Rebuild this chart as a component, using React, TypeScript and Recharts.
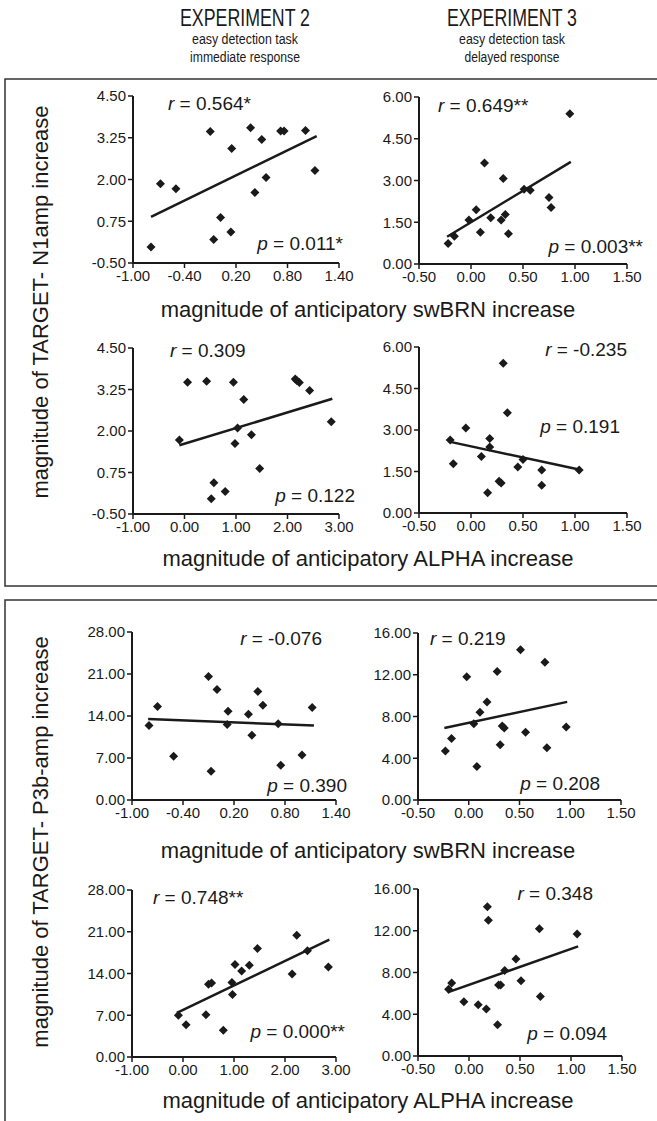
import React from 'react';
import { ScatterChart, Scatter, XAxis, YAxis, ReferenceLine } from 'recharts';

// tick sets
const swbrnExp2Ticks = [-1.0, -0.4, 0.2, 0.8, 1.4];
const alphaExp2Ticks = [-1, 0, 1, 2, 3];
const exp3XTicks = [-0.5, 0, 0.5, 1, 1.5];
const n1Exp2YTicks = [-0.5, 0.75, 2, 3.25, 4.5];
const n1Exp3YTicks = [0, 1.5, 3, 4.5, 6];
const p3bExp2YTicks = [0, 7, 14, 21, 28];
const p3bExp3YTicks = [0, 4, 8, 12, 16];

// N1amp vs swBRN, experiment 2
const n1SwbrnExp2X = [-0.79, -0.68, -0.5, -0.1, -0.06, 0.02, 0.14, 0.15, 0.37, 0.42, 0.5, 0.55, 0.72, 0.76, 1.01, 1.12];
const n1SwbrnExp2Y = [-0.02, 1.87, 1.72, 3.44, 0.2, 0.86, 0.43, 2.93, 3.55, 1.61, 3.2, 2.06, 3.45, 3.45, 3.47, 2.27];
const n1SwbrnExp2FitX = [-0.79, 1.14];
const n1SwbrnExp2FitY = [0.88, 3.3];

// N1amp vs swBRN, experiment 3
const n1SwbrnExp3X = [-0.22, -0.16, -0.02, 0.05, 0.09, 0.13, 0.19, 0.29, 0.31, 0.33, 0.36, 0.51, 0.57, 0.75, 0.77, 0.95];
const n1SwbrnExp3Y = [0.74, 1.0, 1.58, 1.95, 1.14, 3.63, 1.66, 1.58, 3.07, 1.78, 1.09, 2.69, 2.65, 2.39, 2.03, 5.4];
const n1SwbrnExp3FitX = [-0.23, 0.96];
const n1SwbrnExp3FitY = [0.98, 3.67];

// N1amp vs ALPHA, experiment 2
const n1AlphaExp2X = [-0.1, 0.06, 0.43, 0.52, 0.57, 0.79, 0.95, 0.98, 1.03, 1.15, 1.3, 1.46, 2.15, 2.18, 2.23, 2.43, 2.85];
const n1AlphaExp2Y = [1.73, 3.47, 3.5, -0.04, 0.44, 0.18, 3.47, 1.62, 2.09, 2.95, 1.89, 0.87, 3.57, 3.52, 3.46, 3.22, 2.28];
const n1AlphaExp2FitX = [-0.1, 2.87];
const n1AlphaExp2FitY = [1.57, 2.97];

// N1amp vs ALPHA, experiment 3
const n1AlphaExp3X = [-0.2, -0.17, -0.05, 0.1, 0.16, 0.18, 0.18, 0.27, 0.29, 0.31, 0.35, 0.45, 0.5, 0.68, 0.68, 1.04];
const n1AlphaExp3Y = [2.64, 1.78, 3.07, 2.04, 0.73, 2.69, 2.39, 1.15, 1.08, 5.41, 3.62, 1.66, 1.93, 1.55, 1.0, 1.55];
const n1AlphaExp3FitX = [-0.21, 1.05];
const n1AlphaExp3FitY = [2.58, 1.56];

// P3b vs swBRN, experiment 2
const p3bSwbrnExp2X = [-0.8, -0.7, -0.51, -0.1, -0.07, 0.0, 0.12, 0.13, 0.37, 0.41, 0.48, 0.54, 0.72, 0.75, 1.0, 1.12];
const p3bSwbrnExp2Y = [12.4, 15.6, 7.3, 20.6, 4.8, 18.4, 12.6, 14.8, 14.3, 10.8, 18.1, 15.8, 12.7, 5.8, 7.5, 15.4];
const p3bSwbrnExp2FitX = [-0.81, 1.14];
const p3bSwbrnExp2FitY = [13.5, 12.4];

// P3b vs swBRN, experiment 3
const p3bSwbrnExp3X = [-0.23, -0.17, -0.02, 0.05, 0.08, 0.11, 0.18, 0.28, 0.31, 0.33, 0.35, 0.51, 0.56, 0.75, 0.77, 0.96];
const p3bSwbrnExp3Y = [4.7, 5.9, 11.8, 7.3, 3.2, 8.4, 9.4, 12.3, 5.3, 7.1, 6.9, 14.4, 6.5, 13.2, 5.0, 7.0];
const p3bSwbrnExp3FitX = [-0.24, 0.97];
const p3bSwbrnExp3FitY = [6.9, 9.4];

// P3b vs ALPHA, experiment 2
const p3bAlphaExp2X = [-0.09, 0.06, 0.45, 0.5, 0.56, 0.79, 0.96, 0.97, 1.02, 1.15, 1.3, 1.46, 2.14, 2.23, 2.44, 2.85];
const p3bAlphaExp2Y = [7.0, 5.4, 7.1, 12.2, 12.4, 4.5, 12.5, 10.5, 15.5, 14.4, 15.4, 18.2, 13.9, 20.4, 17.8, 15.1];
const p3bAlphaExp2FitX = [-0.12, 2.87];
const p3bAlphaExp2FitY = [7.4, 19.7];

// P3b vs ALPHA, experiment 3
const p3bAlphaExp3X = [-0.2, -0.17, -0.05, 0.09, 0.17, 0.18, 0.19, 0.28, 0.29, 0.31, 0.35, 0.46, 0.51, 0.69, 0.7, 1.06];
const p3bAlphaExp3Y = [6.4, 7.0, 5.2, 4.9, 4.5, 14.3, 13.0, 3.0, 6.8, 6.8, 8.2, 9.3, 7.2, 12.2, 5.7, 11.7];
const p3bAlphaExp3FitX = [-0.21, 1.07];
const p3bAlphaExp3FitY = [6.1, 10.5];

const INK = '#1a1a1a';
const FONT = '"Liberation Sans", Arial, sans-serif';

const zip = (xs: number[], ys: number[]) => xs.map((x, i) => ({ x, y: ys[i] }));

const Diamond = (props: any) => {
  const { cx, cy } = props;
  const s = 4.5;
  return <polygon points={`${cx},${cy - s} ${cx + s},${cy} ${cx},${cy + s} ${cx - s},${cy}`} fill={INK} />;
};

const YW = 56;
const MT = 10;

const Panel = ({ left, top, w, h, xs, ys, fx, fy, xTicks, yTicks }: any) => {
  const data = zip(xs, ys);
  const tick = { fontSize: 15, fill: INK, fontFamily: FONT };
  return (
    <div style={{ position: 'absolute', left: left - YW, top: top - MT }}>
      <ScatterChart width={w + YW + 18} height={h + MT + 30} margin={{ top: MT, right: 18, bottom: 0, left: 0 }}>
        <XAxis
          type="number" dataKey="x" domain={[xTicks[0], xTicks[xTicks.length - 1]]} ticks={xTicks}
          tickFormatter={(v: number) => v.toFixed(2)} height={30} tick={tick}
          axisLine={{ stroke: INK, strokeWidth: 2 }} tickLine={{ stroke: INK, strokeWidth: 1.5 }} tickSize={5} interval={0}
        />
        <YAxis
          type="number" dataKey="y" domain={[yTicks[0], yTicks[yTicks.length - 1]]} ticks={yTicks}
          tickFormatter={(v: number) => v.toFixed(2)} width={YW} tick={tick}
          axisLine={{ stroke: INK, strokeWidth: 2 }} tickLine={{ stroke: INK, strokeWidth: 1.5 }} tickSize={5} interval={0}
        />
        <ReferenceLine
          segment={[{ x: fx[0], y: fy[0] }, { x: fx[1], y: fy[1] }]}
          stroke={INK} strokeWidth={2.5} ifOverflow="visible"
        />
        <Scatter data={data} shape={Diamond} isAnimationActive={false} />
      </ScatterChart>
    </div>
  );
};

const Stat = ({ x, y, sym, text, anchor }: any) => (
  <text x={x} y={y} textAnchor={anchor} fontSize={19} fill={INK} fontFamily={FONT}>
    <tspan fontStyle="italic">{sym}</tspan>{text}
  </text>
);

const Head = ({ x, y, size, len, children }: any) => (
  <text x={x - len / 2} y={y} fontSize={size} textLength={len} lengthAdjust="spacingAndGlyphs">{children}</text>
);

const L = 133, R = 419, PW = 206, PH = 167;

export default function App() {
  return (
    <div style={{ position: 'absolute', left: 0, top: 0, width: 657, height: 1121, background: '#fff', overflow: 'hidden' }}>
      <Panel left={L} top={96} w={PW} h={PH} xs={n1SwbrnExp2X} ys={n1SwbrnExp2Y} fx={n1SwbrnExp2FitX} fy={n1SwbrnExp2FitY} xTicks={swbrnExp2Ticks} yTicks={n1Exp2YTicks} />
      <Panel left={R} top={97} w={PW + 2} h={PH} xs={n1SwbrnExp3X} ys={n1SwbrnExp3Y} fx={n1SwbrnExp3FitX} fy={n1SwbrnExp3FitY} xTicks={exp3XTicks} yTicks={n1Exp3YTicks} />
      <Panel left={L} top={348} w={PW} h={PH - 1} xs={n1AlphaExp2X} ys={n1AlphaExp2Y} fx={n1AlphaExp2FitX} fy={n1AlphaExp2FitY} xTicks={alphaExp2Ticks} yTicks={n1Exp2YTicks} />
      <Panel left={R} top={347} w={PW + 2} h={PH - 1} xs={n1AlphaExp3X} ys={n1AlphaExp3Y} fx={n1AlphaExp3FitX} fy={n1AlphaExp3FitY} xTicks={exp3XTicks} yTicks={n1Exp3YTicks} />
      <Panel left={L - 1} top={632} w={PW - 2} h={PH + 1} xs={p3bSwbrnExp2X} ys={p3bSwbrnExp2Y} fx={p3bSwbrnExp2FitX} fy={p3bSwbrnExp2FitY} xTicks={swbrnExp2Ticks} yTicks={p3bExp2YTicks} />
      <Panel left={R - 1} top={633} w={PW - 3} h={PH} xs={p3bSwbrnExp3X} ys={p3bSwbrnExp3Y} fx={p3bSwbrnExp3FitX} fy={p3bSwbrnExp3FitY} xTicks={exp3XTicks} yTicks={p3bExp3YTicks} />
      <Panel left={L - 1} top={890} w={PW - 2} h={PH} xs={p3bAlphaExp2X} ys={p3bAlphaExp2Y} fx={p3bAlphaExp2FitX} fy={p3bAlphaExp2FitY} xTicks={alphaExp2Ticks} yTicks={p3bExp2YTicks} />
      <Panel left={R - 1} top={889} w={PW - 2} h={PH} xs={p3bAlphaExp3X} ys={p3bAlphaExp3Y} fx={p3bAlphaExp3FitX} fy={p3bAlphaExp3FitY} xTicks={exp3XTicks} yTicks={p3bExp3YTicks} />

      <svg width={657} height={1121} style={{ position: 'absolute', left: 0, top: 0, pointerEvents: 'none' }}>
        {/* frames */}
        <rect x={5} y={79} width={700} height={507} fill="none" stroke="#333" strokeWidth={1.5} />
        <rect x={5} y={600} width={700} height={600} fill="none" stroke="#333" strokeWidth={1.5} />

        {/* headers */}
        <g fill={INK} fontFamily={FONT}>
          <Head x={245} y={26} size={23} len={130}>EXPERIMENT 2</Head>
          <Head x={245} y={44} size={14} len={106}>easy detection task</Head>
          <Head x={245} y={62} size={14} len={110}>immediate response</Head>
          <Head x={512} y={26} size={23} len={130}>EXPERIMENT 3</Head>
          <Head x={512} y={44} size={14} len={106}>easy detection task</Head>
          <Head x={512} y={62} size={14} len={95}>delayed response</Head>
        </g>

        {/* axis titles */}
        <g fill={INK} fontFamily={FONT} fontSize={22} textAnchor="middle">
          <text x={368} y={317}>magnitude of anticipatory swBRN increase</text>
          <text x={368} y={566}>magnitude of anticipatory ALPHA increase</text>
          <text x={368} y={858}>magnitude of anticipatory swBRN increase</text>
          <text x={368} y={1108}>magnitude of anticipatory ALPHA increase</text>
          <text transform="translate(48,302) rotate(-90)">magnitude of TARGET- N1amp increase</text>
          <text transform="translate(48,842) rotate(-90)">magnitude of TARGET- P3b-amp increase</text>
        </g>

        {/* correlation annotations */}
        <Stat x={168} y={110} sym="r" text=" = 0.564*" anchor="start" />
        <Stat x={343} y={250} sym="p" text=" = 0.011*" anchor="end" />
        <Stat x={438} y={112} sym="r" text=" = 0.649**" anchor="start" />
        <Stat x={643} y={253} sym="p" text=" = 0.003**" anchor="end" />
        <Stat x={170} y={357} sym="r" text=" = 0.309" anchor="start" />
        <Stat x={355} y={502} sym="p" text=" = 0.122" anchor="end" />
        <Stat x={627} y={356} sym="r" text=" = -0.235" anchor="end" />
        <Stat x={620} y={433} sym="p" text=" = 0.191" anchor="end" />
        <Stat x={322} y={645} sym="r" text=" = -0.076" anchor="end" />
        <Stat x={347} y={792} sym="p" text=" = 0.390" anchor="end" />
        <Stat x={430} y={645} sym="r" text=" = 0.219" anchor="start" />
        <Stat x={600} y={790} sym="p" text=" = 0.208" anchor="end" />
        <Stat x={153} y={904} sym="r" text=" = 0.748**" anchor="start" />
        <Stat x={345} y={1038} sym="p" text=" = 0.000**" anchor="end" />
        <Stat x={593} y={900} sym="r" text=" = 0.348" anchor="end" />
        <Stat x={607} y={1040} sym="p" text=" = 0.094" anchor="end" />
      </svg>
    </div>
  );
}
